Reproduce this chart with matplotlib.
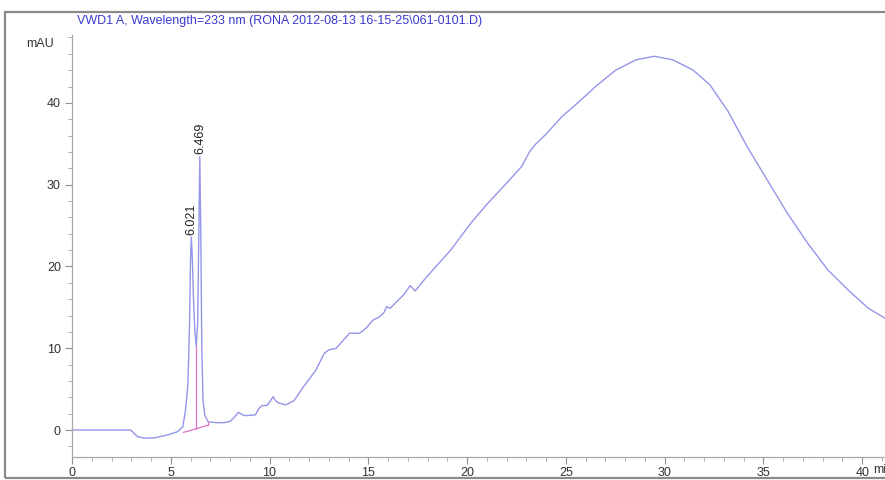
import matplotlib
matplotlib.use("Agg")
import matplotlib.pyplot as plt
from matplotlib.patches import Rectangle
from matplotlib.ticker import MultipleLocator

plt.rcParams['font.family'] = ['Liberation Sans', 'DejaVu Sans']

# segnale VWD1 A (tempo in min, assorbanza in mAU)
tempo = [0, 2.97, 3.1, 3.31, 3.65, 4.2, 4.84, 5.35, 5.61, 5.75, 5.87, 5.95, 6.0,
         6.04, 6.09, 6.15, 6.22, 6.29, 6.36, 6.42, 6.469, 6.52, 6.57, 6.63, 6.72,
         6.89, 7.3, 7.7, 8.0, 8.2, 8.42, 8.6, 8.77, 9.0, 9.28, 9.45, 9.62, 9.87,
         10.0, 10.18, 10.3, 10.43, 10.81, 11.24, 11.66, 12.0, 12.35, 12.77, 13.0,
         13.37, 13.7, 14.05, 14.56, 14.9, 15.24, 15.58, 15.8, 15.92, 16.1, 16.4,
         16.78, 17.12, 17.37, 17.89, 18.5, 19.17, 20.19, 21.0, 22.0, 22.75, 23.17,
         23.43, 24.0, 24.79, 25.5, 26.15, 26.5, 27.52, 28.54, 29.48, 30.42, 31.44,
         32.29, 33.2, 34.17, 35.19, 36.21, 37.24, 38.26, 39.28, 40.3, 41.0, 41.6]
segnale = [0, 0, -0.3, -0.8, -1.0, -0.95, -0.6, -0.2, 0.4, 2.5, 5.7, 13.0, 21.0,
           23.6, 21.0, 16.0, 12.0, 10.2, 13.0, 24.0, 33.4, 24.0, 10.0, 3.7, 1.8,
           1.0, 0.9, 0.9, 1.05, 1.5, 2.16, 1.9, 1.75, 1.8, 1.85, 2.6, 2.98, 3.0,
           3.4, 4.08, 3.6, 3.34, 3.06, 3.59, 5.1, 6.2, 7.34, 9.38, 9.8,
           9.99, 10.9, 11.83, 11.83, 12.5, 13.46, 13.86, 14.4, 15.08, 14.88, 15.6,
           16.51, 17.65, 17.0, 18.55, 20.2, 22.0, 25.3, 27.6, 30.2, 32.2, 34.05,
           34.86, 36.2, 38.3, 39.8, 41.2, 42.0, 44.0, 45.26, 45.7, 45.26, 44.0,
           42.2, 39.0, 34.66, 30.58, 26.5, 22.84, 19.57, 17.13, 14.9, 13.9, 13.0]

# picchi integrati
picchi_t = [6.021, 6.469]
picchi_h = [23.6, 33.4]
picchi_lab = ['6.021', '6.469']

# linea di base dell'integrazione
base_t = [5.64, 6.89]
base_y = [-0.3, 0.6]
taglio_t = 6.26
taglio_basso = 0.15
taglio_alto = 10.2
fine_basso = 0.6
fine_alto = 1.0

titolo = 'VWD1 A, Wavelength=233 nm (RONA 2012-08-13 16-15-25\\061-0101.D)'

fig = plt.figure(figsize=(8.85, 4.8), dpi=100)
ax = fig.add_axes([72 / 885, 1 - 457 / 480, 1 - 72 / 885 + 0.01, (457 - 35) / 480])

ax.plot(tempo, segnale, color='#9595ea', lw=1.0, solid_joinstyle='round')
ax.plot(base_t, base_y, color='#e070c8', lw=0.9)
ax.plot([taglio_t, taglio_t], [taglio_basso, taglio_alto], color='#e070c8', lw=0.9)
ax.plot([base_t[1], base_t[1]], [fine_basso, fine_alto], color='#e070c8', lw=0.9)

for t, h, lab in zip(picchi_t, picchi_h, picchi_lab):
    ax.text(t + 0.02, h + 0.3, lab, rotation=90, ha='center', va='bottom',
            fontsize=9, color='#222222')

ax.set_xlim(0, 41.6)
ax.set_ylim(-3.3, 48.3)

ax.xaxis.set_major_locator(MultipleLocator(5))
ax.xaxis.set_minor_locator(MultipleLocator(1))
ax.yaxis.set_major_locator(MultipleLocator(10))
ax.yaxis.set_minor_locator(MultipleLocator(2))

for lato in ['top', 'right']:
    ax.spines[lato].set_visible(False)
for lato in ['left', 'bottom']:
    ax.spines[lato].set_color('#a8a8a8')
    ax.spines[lato].set_linewidth(0.9)

ax.tick_params(which='major', length=5, width=0.8, color='#909090',
               labelsize=9, labelcolor='#333333', pad=2)
ax.tick_params(which='minor', length=3, width=0.6, color='#a0a0a0')
ax.tick_params(axis='y', which='major', pad=3)

fig.text(77 / 885, 1 - 21 / 480, titolo, color='#3a3ad0', fontsize=9, va='center')
fig.text(40 / 885, 1 - 44 / 480, 'mAU', color='#333333', fontsize=9,
         ha='center', va='center')
# l'unità dell'asse x esce dal bordo destro come nell'originale
fig.text(873 / 885, 1 - 470 / 480, 'min', color='#333333', fontsize=9, va='center')

# cornice esterna
fig.patches.append(Rectangle((5 / 885, 1 - 478 / 480), 1.0, (478 - 12) / 480,
                             transform=fig.transFigure, fill=False,
                             edgecolor='#8a8a8a', lw=1.6))

fig.savefig('out.png', dpi=100)
